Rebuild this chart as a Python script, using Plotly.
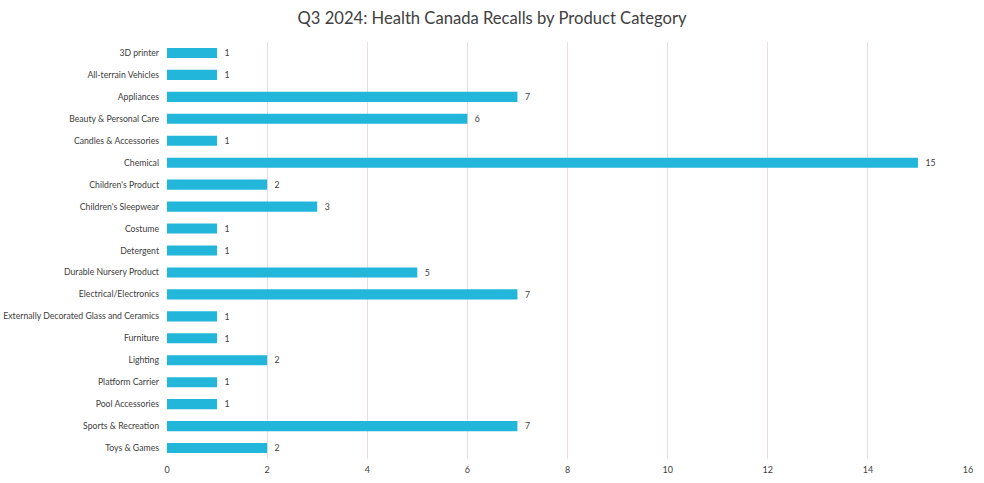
import plotly.graph_objects as go

categories = ["3D printer", "All-terrain Vehicles", "Appliances", "Beauty & Personal Care",
              "Candles & Accessories", "Chemical", "Children's Product", "Children's Sleepwear",
              "Costume", "Detergent", "Durable Nursery Product", "Electrical/Electronics",
              "Externally Decorated Glass and Ceramics", "Furniture", "Lighting",
              "Platform Carrier", "Pool Accessories", "Sports & Recreation", "Toys & Games"]
values = [1, 1, 7, 6, 1, 15, 2, 3, 1, 1, 5, 7, 1, 1, 2, 1, 1, 7, 2]
x_ticks = [0, 2, 4, 6, 8, 10, 12, 14, 16]

FONT = "Lato, Carlito, Calibri, sans-serif"

fig = go.Figure(go.Bar(
    x=values, y=categories, orientation="h",
    marker=dict(color="#22b6da", line=dict(width=0)),
    width=0.46,
    texttemplate="  %{x}", textposition="outside",
    textfont=dict(size=9.5, color="#404040", family=FONT),
    cliponaxis=False,
))

fig.update_layout(
    width=984, height=483,
    paper_bgcolor="white", plot_bgcolor="white",
    margin=dict(l=167, r=16, t=42, b=24, autoexpand=False),
    title=dict(text="Q3 2024: Health Canada Recalls by Product Category",
               x=0.5, xanchor="center", y=0.962, yanchor="middle",
               font=dict(size=16.6, color="#404040", family=FONT)),
    font=dict(family=FONT, color="#404040"),
    showlegend=False,
)
fig.update_xaxes(range=[0, 16], tickvals=x_ticks, showgrid=True, gridcolor="#e8dde2",
                 gridwidth=1, zeroline=False, showline=False, ticks="", automargin=False,
                 tickfont=dict(size=9, color="#404040"), ticklabelstandoff=4)
fig.update_yaxes(autorange="reversed", showgrid=False, showline=False, ticks="", automargin=False,
                 tickfont=dict(size=8.7, color="#404040"), ticklabelstandoff=7)

fig.write_html("out.html", config={"displayModeBar": False},
               post_script="document.body.style.margin='0';document.body.style.padding='0';")
